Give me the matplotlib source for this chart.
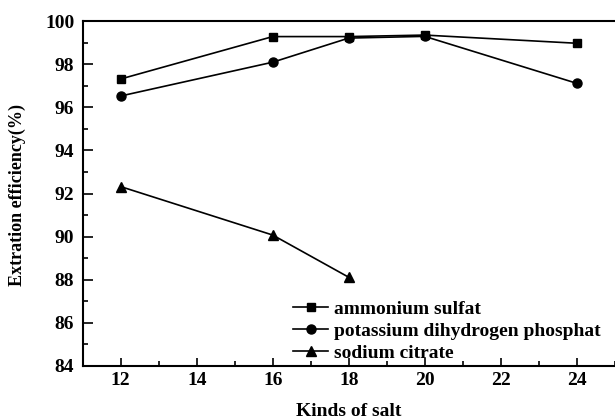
import matplotlib
matplotlib.use("Agg")
import matplotlib.pyplot as plt
from matplotlib.ticker import MultipleLocator

plt.rcParams['font.family'] = ['Liberation Serif', 'DejaVu Serif']
plt.rcParams['font.weight'] = 'bold'

x_amm = [12, 16, 18, 20, 24]
y_amm = [97.32, 99.29, 99.29, 99.36, 98.98]
x_pot = [12, 16, 18, 20, 24]
y_pot = [96.53, 98.10, 99.22, 99.30, 97.12]
x_sod = [12, 16, 18]
y_sod = [92.32, 90.07, 88.11]
labels = ['ammonium sulfat', 'potassium dihydrogen phosphat', 'sodium citrate']
xticks = [12, 14, 16, 18, 20, 22, 24]
yticks = [84, 86, 88, 90, 92, 94, 96, 98, 100]

W, H = 615, 419
fig = plt.figure(figsize=(W / 100, H / 100), dpi=100)
ax = fig.add_axes([82.7 / W, 53.3 / H, 532 / W, 344.4 / H])

ax.plot(x_amm, y_amm, color='black', lw=1.2, marker='s', ms=6, label=labels[0])
ax.plot(x_pot, y_pot, color='black', lw=1.2, marker='o', ms=6.5, label=labels[1])
ax.plot(x_sod, y_sod, color='black', lw=1.2, marker='^', ms=7.5, label=labels[2])

ax.set_xlim(11, 25)
ax.set_ylim(84, 100)
ax.set_xticks(xticks)
ax.set_yticks(yticks)
ax.xaxis.set_minor_locator(MultipleLocator(1))
ax.yaxis.set_minor_locator(MultipleLocator(1))
ax.tick_params(axis='both', which='both', direction='in', width=1.2, labelsize=14)
ax.tick_params(axis='x', which='major', length=6, pad=4.5)
ax.tick_params(axis='y', which='major', length=7, pad=6)
ax.tick_params(axis='both', which='minor', length=3.5)
for lab in ax.get_xticklabels() + ax.get_yticklabels():
    lab.set_fontweight('bold')
for s in ['left', 'bottom', 'top']:
    ax.spines[s].set_linewidth(1.5)
ax.spines['right'].set_visible(False)

ax.set_xlabel('Kinds of salt', fontsize=14, fontweight='bold', labelpad=10)
fig.text(17 / W, 1 - 195 / H, 'Extration efficiency(%)', rotation=90,
         ha='center', va='center', fontsize=13, fontweight='bold')

leg = ax.legend(loc='upper left', bbox_to_anchor=(293 / W, 1 - 300 / H),
                bbox_transform=fig.transFigure, frameon=False, borderpad=0,
                borderaxespad=0, handlelength=1.8, handletextpad=0.3,
                labelspacing=0.23, prop={'size': 14, 'weight': 'bold'})

fig.savefig('out.png', dpi=100)
